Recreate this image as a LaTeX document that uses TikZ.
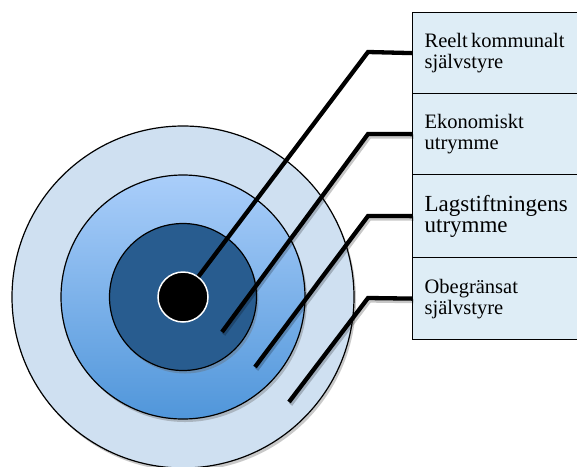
\documentclass[tikz,border=0pt]{standalone}
\usepackage{fontspec}
\setmainfont{Liberation Serif}
\usetikzlibrary{shadows}
\begin{document}
\begin{tikzpicture}[x=1pt,y=-1pt,
  ring/.style={circle,draw=black,line width=1.2pt,inner sep=0pt},
  lbox/.style={rectangle,draw=black,line width=1.2pt,fill=boxfill,anchor=north west,
    inner xsep=12pt,inner ysep=0pt,text width=160pt,align=left,
    execute at begin node={\fontsize{20.5}{21}\selectfont}},
  conn/.style={line width=4.3pt,line join=miter,draw=black},
  connshadow/.style={line width=4.3pt,line join=miter,draw=black,opacity=0.25,shift={(1.5pt,-2.5pt)}},
  shadowed/.style={drop shadow={shadow xshift=2pt,shadow yshift=-3pt,opacity=0.35,fill=black!60}}
]
\definecolor{boxfill}{RGB}{222,237,246}
\definecolor{outerc}{RGB}{207,224,241}
\definecolor{midtop}{RGB}{170,206,250}
\definecolor{midbot}{RGB}{80,150,218}
\definecolor{innerc}{RGB}{40,92,143}
\useasboundingbox (0,0) rectangle (577,466);
\clip (0,0) rectangle (577,466);
\fill[white] (0,0) rectangle (577,466);
% rings
\node[ring,fill=outerc,minimum size=342pt,shadowed] (outer) at (183,297) {};
\node[ring,top color=midtop,bottom color=midbot,minimum size=244pt,shadowed] (mid) at (183,297) {};
\node[ring,fill=innerc,minimum size=147pt,shadowed] (inner) at (183,297) {};
% boxes
\node[lbox,minimum height=81pt] (b1) at (412,12) {Reelt kommunalt\\självstyre};
\node[lbox,minimum height=81pt] (b2) at (412,93) {Ekonomiskt\\utrymme};
\node[lbox,minimum height=83pt] (b3) at (412,174) {{\fontsize{23}{23}\selectfont Lagstiftningens\\utrymme}};
\node[lbox,minimum height=82pt] (b4) at (412,257) {Obegränsat\\självstyre};
% bends and ends
\coordinate (k1) at (368,52);
\coordinate (k2) at (368,134);
\coordinate (k3) at (368,216);
\coordinate (k4) at (368,298);
\coordinate (e2) at (222,332);
\coordinate (e3) at (255,367);
\coordinate (e4) at (289,402);
% centre dot
\node[circle,fill=black,draw=white,line width=1.5pt,minimum size=50pt,inner sep=0pt] (dot) at (183,297) {};
\begin{scope}[transform canvas={shift={(1.5pt,-2.5pt)}}]
\draw[conn,opacity=0.22] (b2.west) -- (k2) -- (e2);
\draw[conn,opacity=0.22] (b3.west) -- (k3) -- (e3);
\draw[conn,opacity=0.22] (b4.west) -- (k4) -- (e4);
\end{scope}
\draw[conn] (b1.west) -- (k1) -- (dot);
\draw[conn] (b2.west) -- (k2) -- (e2);
\draw[conn] (b3.west) -- (k3) -- (e3);
\draw[conn] (b4.west) -- (k4) -- (e4);
\end{tikzpicture}
\end{document}
